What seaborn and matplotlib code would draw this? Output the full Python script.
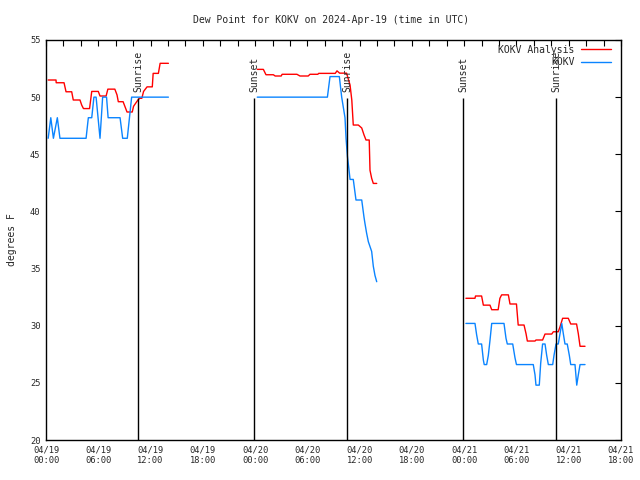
import matplotlib
matplotlib.use("Agg")
import matplotlib.pyplot as plt
import seaborn as sns
import pandas as pd

# hours since 2024-04-19 00:00 UTC, dew point in degrees F
analysis_h1 = [0.25, 1.15, 1.17, 2.07, 2.3, 2.95, 3.13, 3.9, 4.1, 4.3, 5.0, 5.25, 6.0, 6.2, 6.9,
               7.1, 7.9, 8.15, 8.3, 8.85, 9.0, 9.3, 9.9, 10.05, 10.55, 10.75, 11.0, 11.2, 11.6,
               12.2, 12.3, 12.9, 13.1, 14.05]
analysis_v1 = [51.5, 51.5, 51.26, 51.26, 50.47, 50.47, 49.75, 49.75, 49.3, 49.0, 49.0, 50.5, 50.5,
               50.1, 50.1, 50.7, 50.7, 50.2, 49.6, 49.6, 49.3, 48.7, 48.7, 49.2, 49.75, 49.9, 49.9,
               50.5, 50.9, 50.9, 52.08, 52.08, 52.96, 52.96]
analysis_h2 = [24.25, 24.95, 25.25, 26.1, 26.3, 27.0, 27.1, 28.8, 29.15, 30.1, 30.3, 31.2, 31.3,
               33.2, 33.4, 33.7, 34.5, 34.9, 35.1, 35.27, 35.85, 36.24, 36.5, 36.73, 37.1, 37.19,
               37.38, 37.57, 37.96]
analysis_v2 = [52.43, 52.43, 51.96, 51.96, 51.85, 51.85, 52.0, 52.0, 51.85, 51.85, 52.0, 52.0, 52.08,
               52.08, 52.3, 52.1, 52.1, 51.06, 49.75, 47.56, 47.56, 47.3, 46.7, 46.25, 46.25, 43.6,
               42.9, 42.45, 42.45]
analysis_h3 = [48.2, 49.24, 49.3, 50.0, 50.2, 50.96, 51.16, 51.9, 52.1, 52.3, 53.07, 53.26, 54.0,
               54.2, 54.87, 55.1, 55.25, 56.13, 56.24, 57.0, 57.28, 58.05, 58.23, 58.8, 59.0, 59.3,
               59.95, 60.23, 60.9, 61.1, 61.3, 61.87]
analysis_v3 = [32.4, 32.4, 32.6, 32.6, 31.8, 31.8, 31.4, 31.4, 32.4, 32.7, 32.7, 31.9, 31.9, 30.06,
               30.06, 29.3, 28.66, 28.66, 28.75, 28.75, 29.27, 29.27, 29.47, 29.47, 29.9, 30.65,
               30.65, 30.15, 30.15, 29.3, 28.2, 28.2]

obs_h1 = [0.25, 0.55, 0.85, 1.3, 1.6, 4.6, 4.86, 5.25, 5.5, 5.75, 6.2, 6.5, 6.95, 7.13, 8.5, 8.8,
          9.33, 9.83, 14.05]
obs_v1 = [46.4, 48.2, 46.4, 48.2, 46.4, 46.4, 48.2, 48.2, 50.0, 50.0, 46.4, 50.0, 50.0, 48.2, 48.2,
          46.4, 46.4, 50.0, 50.0]
obs_h2 = [24.25, 32.3, 32.6, 33.67, 33.94, 34.13, 34.32, 34.44, 34.6, 34.74, 34.9, 35.27, 35.58,
          36.24, 36.5, 36.6, 36.8, 37.0, 37.38, 37.57, 37.76, 37.96]
obs_v2 = [50.0, 50.0, 51.8, 51.8, 50.0, 49.1, 48.2, 46.4, 44.8, 43.9, 42.8, 42.8, 41.0, 41.0, 39.5,
          39.0, 38.1, 37.35, 36.5, 35.2, 34.4, 33.85]
obs_h3 = [48.2, 49.24, 49.43, 49.62, 50.0, 50.2, 50.3, 50.58, 50.77, 50.96, 51.16, 52.57, 52.8,
          52.95, 53.57, 53.83, 54.0, 55.93, 56.13, 56.24, 56.62, 56.78, 57.0, 57.28, 57.47, 57.66,
          58.16, 58.31, 58.54, 58.8, 59.0, 59.2, 59.38, 59.57, 59.83, 60.07, 60.23, 60.72, 60.92,
          61.1, 61.3, 61.87]
obs_v3 = [30.2, 30.2, 29.2, 28.4, 28.4, 27.0, 26.6, 26.6, 27.4, 28.7, 30.2, 30.2, 28.9, 28.4, 28.4,
          27.2, 26.6, 26.6, 25.7, 24.8, 24.8, 26.7, 28.4, 28.4, 27.4, 26.6, 26.6, 27.4, 28.4, 28.4,
          29.3, 30.2, 29.3, 28.4, 28.4, 27.4, 26.6, 26.6, 24.8, 25.7, 26.6, 26.6]

sun_hours = [10.6, 23.87, 34.55, 47.86, 58.54]
sun_labels = ["Sunrise", "Sunset", "Sunrise", "Sunset", "Sunrise"]

tick_hours = list(range(0, 67, 6))
tick_labels = ["04/19\n00:00", "04/19\n06:00", "04/19\n12:00", "04/19\n18:00",
               "04/20\n00:00", "04/20\n06:00", "04/20\n12:00", "04/20\n18:00",
               "04/21\n00:00", "04/21\n06:00", "04/21\n12:00", "04/21\n18:00"]

# build one long table, a segment id keeps the data gaps unconnected
frames = []
segs = [("KOKV Analysis", analysis_h1, analysis_v1), ("KOKV Analysis", analysis_h2, analysis_v2),
        ("KOKV Analysis", analysis_h3, analysis_v3), ("KOKV", obs_h1, obs_v1),
        ("KOKV", obs_h2, obs_v2), ("KOKV", obs_h3, obs_v3)]
for i, (name, h, v) in enumerate(segs):
    frames.append(pd.DataFrame({"hour": h, "dew": v, "series": name, "seg": i}))
df = pd.concat(frames, ignore_index=True)

sns.set_style("white")
plt.rcParams["font.family"] = ["DejaVu Sans Mono", "DejaVu Sans"]

fig = plt.figure(figsize=(6.4, 4.8), dpi=100)
ax = fig.add_axes([46 / 640, 40 / 480, 575 / 640, 400 / 480])

sns.lineplot(data=df, x="hour", y="dew", hue="series", units="seg", estimator=None,
             hue_order=["KOKV Analysis", "KOKV"],
             palette={"KOKV Analysis": "#ff0000", "KOKV": "#0a84ff"},
             linewidth=1.0, sort=False, ax=ax)

ax.vlines(sun_hours, 20, 49.9, color="black", linewidth=1.0)
for h, lab in zip(sun_hours, sun_labels):
    ax.text(h + 0.05, 50.45, lab, rotation=90, ha="center", va="bottom", fontsize=7)

ax.set_xlim(0, 66)
ax.set_ylim(20, 55)
ax.set_xticks(tick_hours)
ax.set_xticklabels(tick_labels)
ax.set_xticks(range(0, 67, 2), minor=True)
ax.set_yticks(range(20, 56, 5))
ax.tick_params(which="both", direction="in", top=True, right=True, length=4, width=0.8,
               labelsize=6.3, color="black", pad=4)
for s in ax.spines.values():
    s.set_color("black")
    s.set_linewidth(1.0)

ax.set_xlabel("")
ax.set_ylabel("degrees F", fontsize=7, labelpad=9)
fig.text(331 / 640, 1 - 20 / 480, "Dew Point for KOKV on 2024-Apr-19 (time in UTC)",
         ha="center", va="center", fontsize=7)

leg = ax.legend(loc="upper right", bbox_to_anchor=(0.995, 1.005), frameon=False, fontsize=7,
                markerfirst=False, handlelength=3.1, handletextpad=0.7, labelspacing=0.25,
                borderaxespad=0.3)
for t in leg.get_texts():
    t.set_ha("right")

fig.savefig("out.png", dpi=100)
